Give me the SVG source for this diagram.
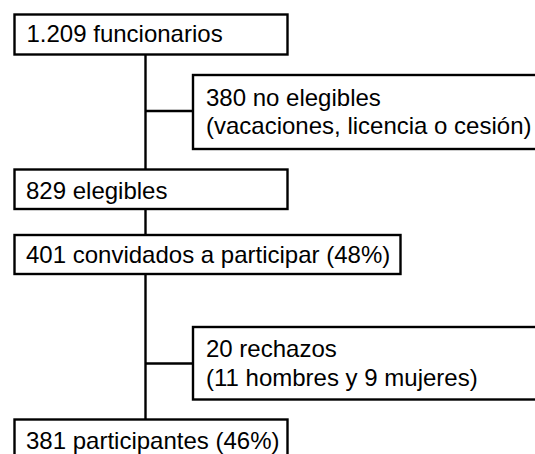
<svg xmlns="http://www.w3.org/2000/svg" width="535" height="454" viewBox="0 0 535 454">
<style>
.box{fill:#fff;stroke:#000;stroke-width:2.4}
.t{font-family:"Liberation Sans",Arial,sans-serif;font-size:24px;fill:#000}
.c{stroke:#000;stroke-width:2.4;fill:none}
</style>
<rect width="535" height="454" fill="#fff"/>
<g id="connectors">
<line class="c" x1="145.5" y1="55" x2="145.5" y2="420"/>
<line class="c" x1="145.5" y1="111" x2="193" y2="111"/>
<line class="c" x1="145.5" y1="363.5" x2="193" y2="363.5"/>
</g>
<g id="n1"><rect class="box" x="14.5" y="14.5" width="273" height="40"/><text class="t" x="26.5" y="42.3">1.209 funcionarios</text></g>
<g id="n2"><rect class="box" x="193" y="75" width="360" height="74"/><text class="t" x="206" y="105.5">380 no elegibles</text><text class="t" x="206" y="134">(vacaciones, licencia o cesión)</text></g>
<g id="n3"><rect class="box" x="14.5" y="169.5" width="273" height="39.5"/><text class="t" x="26" y="199">829 elegibles</text></g>
<g id="n4"><rect class="box" x="14.5" y="235" width="386" height="39"/><text class="t" x="26" y="262.5">401 convidados a participar (48%)</text></g>
<g id="n5"><rect class="box" x="193" y="327" width="360" height="72.5"/><text class="t" x="206" y="357">20 rechazos</text><text class="t" x="206" y="386">(11 hombres y 9 mujeres)</text></g>
<g id="n6"><rect class="box" x="14.5" y="419.5" width="273" height="50"/><text class="t" x="26" y="449">381 participantes (46%)</text></g>
</svg>
